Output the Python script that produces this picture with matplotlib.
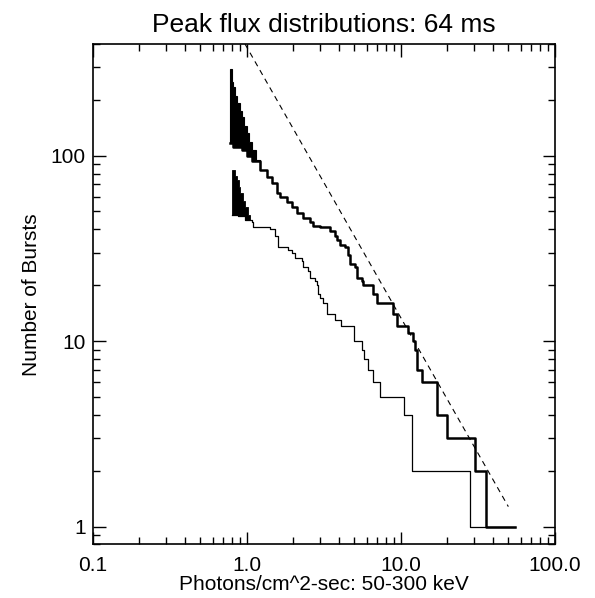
import numpy as np
import matplotlib
matplotlib.use("Agg")
import matplotlib.pyplot as plt

plt.rcParams['font.family'] = ['Liberation Sans', 'DejaVu Sans']

# ---- data (cumulative burst counts, step post) ----
thick_x = [0.779, 0.818, 0.928, 1.00, 1.078, 1.22, 1.349, 1.453, 1.566, 1.645, 1.819, 1.96,
           2.113, 2.331, 2.576, 2.707, 3.0, 3.475, 3.745, 3.841, 4.035, 4.348, 4.567, 4.686,
           5.049, 5.18, 5.583, 5.715, 6.637, 6.983, 8.954, 9.42, 11.2, 12.08, 12.4, 12.7,
           13.69, 17.13, 19.9, 30.4, 35.6, 55.0]
thick_y = [117, 112, 107, 99, 93, 84, 77, 71, 63, 60, 56, 53,
           49, 46, 44, 42, 41, 39, 37, 35, 33, 32, 29, 26,
           25, 22, 21, 20, 18, 16, 14, 12, 11, 10, 9, 7,
           6, 4, 3, 2, 1, 1]

thick_env_x = [0.779, 0.80, 0.818, 0.845, 0.869, 0.90, 0.928, 0.96, 1.00, 1.04, 1.078, 1.15, 1.22]
thick_env_y = [292, 250, 235, 210, 192, 175, 162, 145, 132, 118, 107, 95, 84]

thin_x = [0.806, 0.882, 0.975, 1.078, 1.104, 1.417, 1.527, 1.604, 1.862, 1.96, 2.059, 2.275,
          2.331, 2.512, 2.576, 2.777, 2.849, 2.92, 3.0, 3.15, 3.31, 3.745, 4.08, 4.98,
          5.583, 5.778, 6.16, 6.58, 7.34, 10.5, 11.78, 28.2, 55.0]
thin_y = [48, 47, 45, 44, 41, 40, 37, 32, 31, 30, 28, 27,
          25, 24, 22, 21, 20, 18, 17, 16, 14, 13, 12, 10,
          9, 8, 7, 6, 5, 4, 2, 1, 1]

thin_env_x = [0.806, 0.835, 0.861, 0.885, 0.905, 0.94, 0.975, 1.02, 1.05, 1.078]
thin_env_y = [84, 78, 74, 68, 63, 57, 53, 48, 45, 44]

ref_x = [0.975, 50.0]
ref_y = [400.0, 1.28]

xticks = [0.1, 1.0, 10.0, 100.0]
xtick_labels = ["0.1", "1.0", "10.0", "100.0"]
yticks = [1, 10, 100]
ytick_labels = ["1", "10", "100"]


def steps(x, y):
    xs, ys = [], []
    for i in range(len(x)):
        if i > 0:
            xs.append(x[i]); ys.append(y[i - 1])
        xs.append(x[i]); ys.append(y[i])
    return xs, ys


def wedge(env_x, env_y, line_x, line_y):
    ux, uy = steps(env_x, env_y)
    xend = env_x[-1]
    lx, ly = [], []
    sx, sy = steps(line_x, line_y)
    for a, b in zip(sx, sy):
        if a <= xend:
            lx.append(a); ly.append(b)
    return ux + lx[::-1], uy + ly[::-1]


fig = plt.figure(figsize=(5.95, 5.98), dpi=100)
ax = fig.add_axes([0.1558, 0.0895, 0.7765, 0.8369])
ax.set_xscale('log')
ax.set_yscale('log')
ax.set_xlim(0.1, 100)
ax.set_ylim(0.8, 400)

px, py = wedge(thick_env_x, thick_env_y, thick_x, thick_y)
ax.fill(px, py, color='black', lw=0.8)
px, py = wedge(thin_env_x, thin_env_y, thin_x, thin_y)
ax.fill(px, py, color='black', lw=0.6)

ax.step(thin_x, thin_y, where='post', color='black', lw=0.9)
ax.step(thick_x, thick_y, where='post', color='black', lw=1.8)
ax.plot(ref_x, ref_y, color='black', lw=0.8, linestyle=(0, (5, 4)))

ax.set_xticks(xticks)
ax.set_xticklabels(xtick_labels)
ax.set_yticks(yticks)
ax.set_yticklabels(ytick_labels)
ax.tick_params(which='both', direction='in', top=True, right=True, labelsize=15, width=1.0)
ax.tick_params(which='major', length=9)
ax.tick_params(axis='x', which='major', pad=8)
ax.tick_params(axis='y', which='major', pad=5)
ax.tick_params(which='minor', length=5)
for s in ax.spines.values():
    s.set_linewidth(1.2)

ax.set_xlabel("Photons/cm^2-sec: 50-300 keV", fontsize=15, labelpad=0)
ax.set_ylabel("Number of Bursts", fontsize=15, labelpad=7)
ax.set_title("Peak flux distributions: 64 ms", fontsize=19, pad=9)

fig.savefig("out.png", dpi=100)
